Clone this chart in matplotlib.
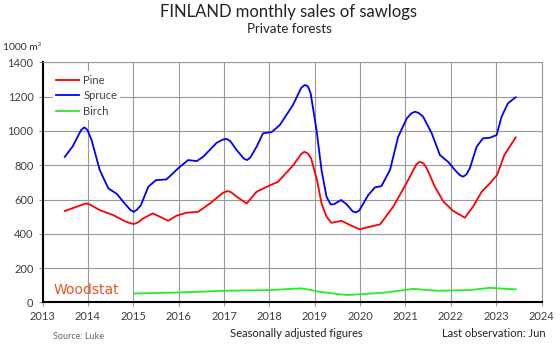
import numpy as np
import matplotlib.pyplot as plt

plt.rcParams['font.family'] = ['Lato', 'DejaVu Sans']

# dates as decimal years, values in 1000 m3
pine_x = [2013.49, 2013.71, 2013.90, 2013.97, 2014.05, 2014.26, 2014.56, 2014.81,
          2014.93, 2015.01, 2015.10, 2015.22, 2015.43, 2015.59, 2015.77, 2015.95,
          2016.17, 2016.43, 2016.69, 2016.98, 2017.08, 2017.16, 2017.28, 2017.50,
          2017.72, 2017.94, 2018.19, 2018.53, 2018.70, 2018.77, 2018.85, 2018.92,
          2019.05, 2019.15, 2019.26, 2019.37, 2019.59, 2019.78, 2019.99, 2020.21,
          2020.44, 2020.73, 2021.02, 2021.24, 2021.32, 2021.40, 2021.47, 2021.65,
          2021.84, 2022.05, 2022.31, 2022.49, 2022.68, 2022.86, 2023.02, 2023.18,
          2023.43]
pine_y = [533, 554, 572, 577, 570, 538, 509, 474,
          462, 457, 466, 490, 519, 499, 476, 505,
          523, 528, 577, 640, 649, 642, 616, 577,
          645, 674, 703, 801, 865, 878, 868, 840,
          713, 577, 500, 464, 476, 451, 426, 441,
          455, 558, 694, 805, 820, 810, 782, 674,
          587, 534, 494, 558, 645, 694, 743, 859,
          962]

spruce_x = [2013.49, 2013.66, 2013.85, 2013.92, 2013.99, 2014.08, 2014.26, 2014.45,
            2014.64, 2014.81, 2014.94, 2015.01, 2015.08, 2015.17, 2015.33, 2015.50,
            2015.73, 2015.99, 2016.21, 2016.40, 2016.54, 2016.84, 2016.98, 2017.06,
            2017.14, 2017.28, 2017.44, 2017.51, 2017.58, 2017.72, 2017.86, 2018.05,
            2018.23, 2018.52, 2018.70, 2018.78, 2018.85, 2018.91, 2019.04, 2019.15,
            2019.26, 2019.35, 2019.42, 2019.58, 2019.70, 2019.84, 2019.91, 2019.98,
            2020.03, 2020.18, 2020.33, 2020.47, 2020.66, 2020.84, 2021.03, 2021.13,
            2021.21, 2021.29, 2021.39, 2021.58, 2021.76, 2021.94, 2022.09, 2022.20,
            2022.27, 2022.34, 2022.42, 2022.57, 2022.71, 2022.86, 2023.01, 2023.12,
            2023.26, 2023.43]
spruce_y = [849, 908, 1005, 1021, 1005, 947, 772, 665,
            632, 577, 538, 528, 540, 568, 674, 713,
            717, 782, 830, 824, 849, 931, 950, 953,
            940, 888, 838, 830, 845, 908, 986, 993,
            1034, 1151, 1250, 1268, 1260, 1219, 1005, 772,
            616, 572, 572, 597, 573, 530, 525, 535,
            558, 626, 671, 678, 772, 966, 1073, 1102,
            1112, 1105, 1083, 986, 859, 820, 772, 742,
            733, 745, 782, 908, 957, 960, 976, 1083,
            1161, 1196]

birch_x = [2015.03, 2016.03, 2017.02, 2018.01, 2018.71, 2019.11, 2019.70, 2019.99,
           2020.58, 2021.17, 2021.69, 2022.42, 2022.86, 2023.43]
birch_y = [52, 58, 68, 72, 82, 62, 43, 47,
           58, 79, 68, 72, 85, 76]

years = list(range(2013, 2025))
yticks = list(range(0, 1401, 200))

fig = plt.figure(figsize=(5.6, 3.48), dpi=100)
ax = fig.add_axes([0.076, 0.131, 0.891, 0.690])

ax.plot(pine_x, pine_y, color='#ff0000', lw=1.3, label='Pine', zorder=3)
ax.plot(spruce_x, spruce_y, color='#0000ff', lw=1.3, label='Spruce', zorder=3)
ax.plot(birch_x, birch_y, color='#22ee22', lw=1.3, label='Birch', zorder=3)

ax.set_xlim(2013, 2024)
ax.set_ylim(0, 1400)
ax.set_xticks(years)
ax.set_yticks(yticks)
ax.grid(True, color='#999999', lw=0.8)
ax.set_axisbelow(True)
ax.tick_params(labelsize=8, colors='#999999', labelcolor='#404040', length=3, width=0.8)

for s in ['top', 'right']:
    ax.spines[s].set_color('#999999')
    ax.spines[s].set_linewidth(0.8)
for s in ['left', 'bottom']:
    ax.spines[s].set_color('black')
    ax.spines[s].set_linewidth(1.5)

leg = ax.legend(loc='upper left', bbox_to_anchor=(0.01, 0.985), fontsize=8,
                frameon=True, facecolor='white', edgecolor='none', framealpha=1,
                handlelength=2.0, handletextpad=0.4, labelspacing=0.4,
                borderpad=0.3, fancybox=False)
for t in leg.get_texts():
    t.set_color('#404040')

fig.text(0.516, 0.950, 'FINLAND monthly sales of sawlogs', ha='center', va='baseline',
         fontsize=12, color='#222222')
fig.text(0.516, 0.904, 'Private forests', ha='center', va='baseline',
         fontsize=9.5, color='#222222')
fig.text(0.005, 0.856, '1000 m³', ha='left', va='baseline', fontsize=7.5, color='#333333')
fig.text(0.095, 0.155, 'Woodstat', ha='left', va='baseline', fontsize=10,
         color='#f0501e', family='DejaVu Sans')
fig.text(0.095, 0.026, 'Source: Luke', ha='left', va='baseline', fontsize=6.5, color='#666666')
fig.text(0.53, 0.033, 'Seasonally adjusted figures', ha='center', va='baseline',
         fontsize=8, color='#222222')
fig.text(0.975, 0.033, 'Last observation: Jun', ha='right', va='baseline',
         fontsize=8, color='#222222')

fig.savefig('out.png', dpi=100)
